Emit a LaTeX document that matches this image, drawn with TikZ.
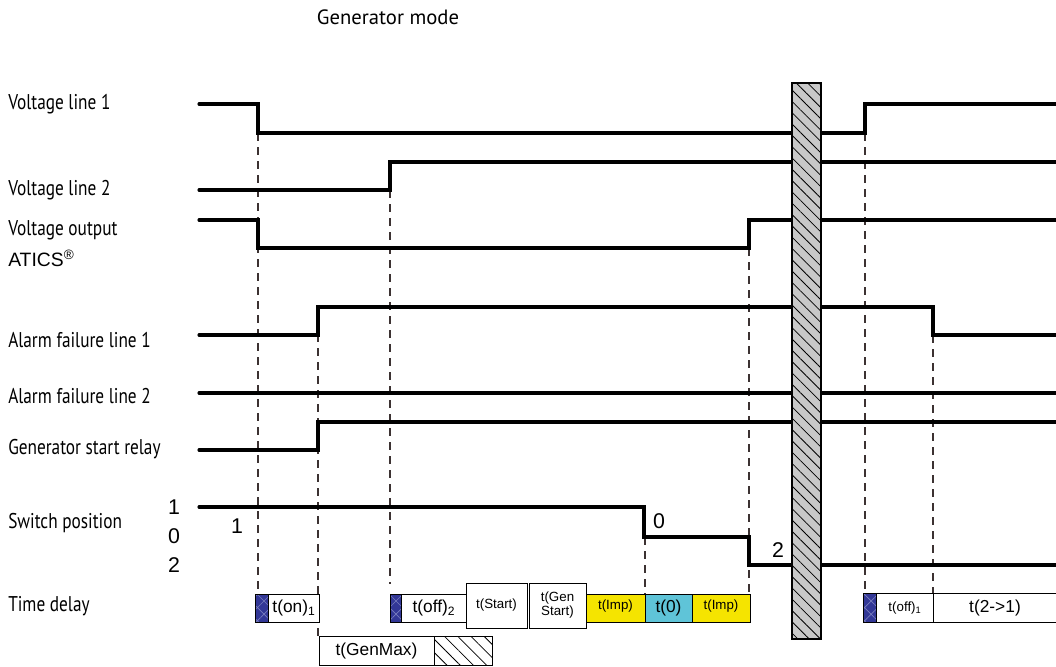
\documentclass[tikz,border=0pt]{standalone}
\usepackage{fontspec}
\usetikzlibrary{patterns,patterns.meta}
\newfontfamily\lblfont[FakeStretch=0.81]{PT Sans}
\newfontfamily\titlefont{PT Sans}
\setmainfont{Liberation Sans}
\definecolor{sigblue}{RGB}{50,55,150}
\definecolor{hatchblue}{RGB}{120,125,190}
\definecolor{impyellow}{RGB}{245,228,0}
\definecolor{zerocyan}{RGB}{95,196,216}
\definecolor{bargray}{RGB}{200,200,200}
\definecolor{dashgray}{RGB}{60,50,50}
\tikzset{
  sig/.style={line width=2.3pt, line cap=round, line join=miter},
  guide/.style={draw=dashgray, line width=0.9pt, dash pattern=on 6pt off 4.5pt},
  lbl/.style={anchor=west, inner sep=0pt, font=\lblfont\fontsize{16}{18}\selectfont},
  num/.style={inner sep=0pt, font=\fontsize{16}{18}\selectfont},
  tbox/.style={draw=black, line width=0.6pt, fill=white},
  bluepart/.style={draw=black, line width=0.6pt, preaction={fill=sigblue}, pattern={Hatch[angle=45,distance=7pt,line width=0.5pt]}, pattern color=hatchblue},
  boxtxt/.style={inner sep=0pt, align=center, font=\fontsize{13}{14}\selectfont},
  smalltxt/.style={inner sep=0pt, align=center, font=\fontsize{10}{11}\selectfont},
}
\begin{document}
\begin{tikzpicture}[x=0.75pt,y=-0.75pt]
\useasboundingbox (0,0) rectangle (1056,667);
% title and labels
\node[inner sep=0pt, font=\titlefont\fontsize{15.5}{17}\selectfont] (title) at (388,17) {Generator mode};
\node[lbl] (l1) at (8,104) {Voltage line 1};
\node[lbl] (l2) at (8,190) {Voltage line 2};
\node[lbl] (l3) at (8,230) {Voltage output};
\node[anchor=west, inner sep=0pt, font=\fontsize{14.5}{16}\selectfont] (l3b) at (8,258) {ATICS\textsuperscript{\textregistered}};
\node[lbl] (l4) at (8,340) {Alarm failure line 1};
\node[lbl] (l5) at (8,396) {Alarm failure line 2};
\node[lbl] (l6) at (8,449) {Generator start relay};
\node[lbl] (l7) at (8,523) {Switch position};
\node[lbl] (l8) at (8,606) {Time delay};
\node[num] (n1) at (174,507) {1};
\node[num] (n0) at (174,536) {0};
\node[num] (n2) at (174,565) {2};
\node[num] (s1) at (237,526) {1};
\node[num] (s0) at (659,521) {0};
\node[num] (s2) at (778,550) {2};
% guides
\coordinate (g1t) at (258,133); \coordinate (g1b) at (258,595);
\coordinate (g2t) at (318,334); \coordinate (g2b) at (318,636);
\coordinate (g3t) at (390,190); \coordinate (g3b) at (390,584);
\coordinate (g4t) at (645,537); \coordinate (g4b) at (645,595);
\coordinate (g5t) at (749,248); \coordinate (g5b) at (749,595);
\coordinate (g6t) at (865,133); \coordinate (g6b) at (865,594);
\coordinate (g7t) at (933,335); \coordinate (g7b) at (933,594);
\draw[guide] (g1t) -- (g1b);
\draw[guide] (g2t) -- (g2b);
\draw[guide] (g3t) -- (g3b);
\draw[guide] (g4t) -- (g4b);
\draw[guide] (g5t) -- (g5b);
\draw[guide] (g6t) -- (g6b);
\draw[guide] (g7t) -- (g7b);
% signals
\draw[sig] (199,104) -- (258,104) -- (258,133) -- (865,133) -- (865,104) -- (1056,104);
\draw[sig] (199,190) -- (390,190) -- (390,162) -- (1056,162);
\draw[sig] (199,220) -- (258,220) -- (258,248) -- (749,248) -- (749,220) -- (1056,220);
\draw[sig] (199,335) -- (318,335) -- (318,307) -- (933,307) -- (933,335) -- (1056,335);
\draw[sig] (199,393) -- (1056,393);
\draw[sig] (199,450) -- (318,450) -- (318,422) -- (1056,422);
\draw[sig] (199,507) -- (644,507) -- (644,537) -- (749,537) -- (749,565) -- (1056,565);
% hatched bar
\draw[line width=0.8pt, preaction={fill=bargray}, pattern={Lines[angle=-45,distance=6pt,line width=0.6pt]}] (792,83) rectangle (821,639);
% time delay boxes
\draw[tbox] (255,594) rectangle (319,622);
\draw[bluepart] (255,594) rectangle (268,622);
\node[boxtxt] (ton) at (294,608) {t(on)\textsubscript{1}};
\draw[tbox] (390,594) rectangle (466,622);
\draw[bluepart] (390,594) rectangle (401,622);
\node[boxtxt] (toff2) at (434,608) {t(off)\textsubscript{2}};
\draw[tbox] (466,583) rectangle (527,628);
\node[smalltxt] (tstart) at (496.5,605) {t(Start)};
\draw[tbox] (529,583) rectangle (586,628);
\node[smalltxt] (tgs) at (557.5,605) {t(Gen\\Start)};
\draw[tbox, fill=impyellow] (586,594) rectangle (645,622);
\node[smalltxt] (timp1) at (615.5,606) {t(Imp)};
\draw[tbox, fill=zerocyan] (645,594) rectangle (692,622);
\node[boxtxt] (t0) at (668.5,608) {t(0)};
\draw[tbox, fill=impyellow] (692,594) rectangle (750,622);
\node[smalltxt] (timp2) at (721,606) {t(Imp)};
\draw[tbox] (319,636) rectangle (434,665);
\node[boxtxt] (tgm) at (376.5,651) {t(GenMax)};
\draw[line width=0.6pt, preaction={fill=white}, pattern={Lines[angle=-45,distance=7pt,line width=0.6pt]}] (434,636) rectangle (492,665);
\draw[tbox] (863,593) rectangle (933,622);
\draw[bluepart] (863,593) rectangle (876,622);
\node[smalltxt] (toff1) at (905,608) {t(off)\textsubscript{1}};
\draw[tbox] (933,593) rectangle (1060,622);
\node[boxtxt] (t21) at (995,608) {t(2->1)};
\end{tikzpicture}
\end{document}
